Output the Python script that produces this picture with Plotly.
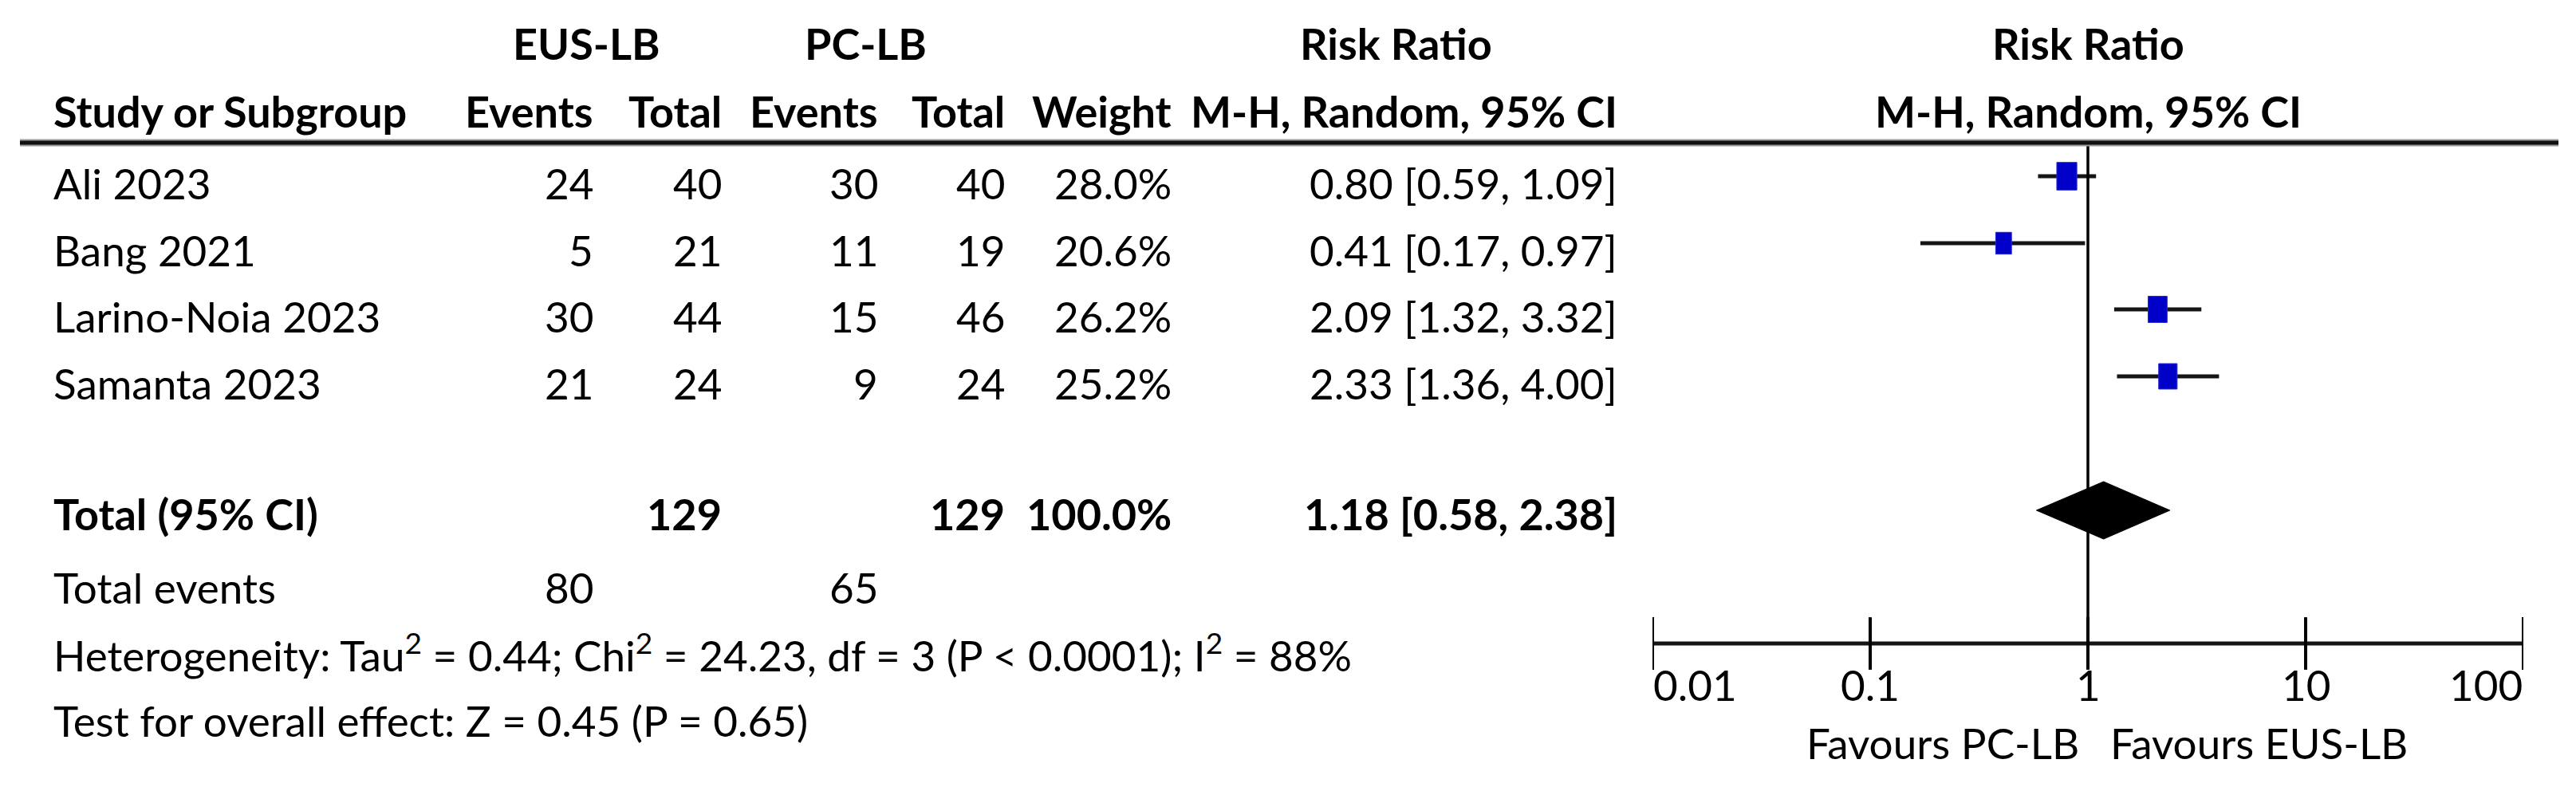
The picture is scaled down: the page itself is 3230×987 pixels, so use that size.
import math
import plotly.graph_objects as go

# ---------------- data ----------------
studies = ["Ali 2023", "Bang 2021", "Larino-Noia 2023", "Samanta 2023"]
eus_events = [24, 5, 30, 21]
eus_total = [40, 21, 44, 24]
pc_events = [30, 11, 15, 9]
pc_total = [40, 19, 46, 24]
weights = [28.0, 20.6, 26.2, 25.2]
rr = [0.80, 0.41, 2.09, 2.33]
ci_low = [0.59, 0.17, 1.32, 1.36]
ci_high = [1.09, 0.97, 3.32, 4.00]

total_label = "Total (95% CI)"
total_eus = 129
total_pc = 129
total_weight = 100.0
pooled_rr = 1.18
pooled_low = 0.58
pooled_high = 2.38

events_label = "Total events"
events_eus = 80
events_pc = 65

heterogeneity = ("Heterogeneity: Tau<sup>2</sup> = 0.44; Chi<sup>2</sup> = 24.23, "
                 "df = 3 (P &lt; 0.0001); I<sup>2</sup> = 88%")
overall_effect = "Test for overall effect: Z = 0.45 (P = 0.65)"

axis_ticks = [0.01, 0.1, 1, 10, 100]
axis_tick_labels = ["0.01", "0.1", "1", "10", "100"]
favours_left = "Favours PC-LB"
favours_right = "Favours EUS-LB"

group1 = "EUS-LB"
group2 = "PC-LB"

# ---------------- layout constants (pixels) ----------------
W, H = 3230, 987
FONT = "Lato, Roboto, sans-serif"
FS = 53
FSB = 54
AX_L, AX_R = 2072, 3164
DECADE_PX = (AX_R - AX_L) / (math.log10(axis_ticks[-1]) - math.log10(axis_ticks[0]))

ROW_Y = [221, 305, 388, 472]
TEXT_DY = 8
Y_H1, Y_H2, Y_RULE = 54, 139, 179
Y_TOTAL, Y_EVENTS, Y_HET, Y_TEST = 640, 736, 818, 903
Y_AXIS, Y_TICKLBL, Y_FAV = 807, 858, 931
DIAMOND_HALF = 36

X_STUDY = 66
X_EUS_EV, X_EUS_TOT = 745, 906
X_PC_EV, X_PC_TOT = 1102, 1261
X_WEIGHT = 1470
X_RR = 2029

annotations = []


def txt(s, xpx, y, anchor="left", bold=False, xref="paper"):
    annotations.append(dict(
        text=("<b>%s</b>" % s) if bold else s,
        x=(xpx / W) if xref == "paper" else xpx, xref=xref,
        y=y, yref="y", xanchor=anchor, yanchor="middle",
        showarrow=False, borderpad=0,
        font=dict(family=FONT, size=FSB if bold else FS, color="black"),
    ))


# headers
txt(group1, 735, Y_H1, "center", True)
txt(group2, 1085, Y_H1, "center", True)
txt("Risk Ratio", 1750, Y_H1, "center", True)
txt("Study or Subgroup", X_STUDY, Y_H2, "left", True)
txt("Events", X_EUS_EV, Y_H2, "right", True)
txt("Total", X_EUS_TOT, Y_H2, "right", True)
txt("Events", X_PC_EV, Y_H2, "right", True)
txt("Total", X_PC_TOT, Y_H2, "right", True)
txt("Weight", X_WEIGHT, Y_H2, "right", True)
txt("M-H, Random, 95% CI", X_RR, Y_H2, "right", True)
txt("Risk Ratio", 0, Y_H1, "center", True, xref="x")
txt("M-H, Random, 95% CI", 0, Y_H2, "center", True, xref="x")

# study rows
for i, s in enumerate(studies):
    y = ROW_Y[i] + TEXT_DY
    txt(s, X_STUDY, y)
    txt(str(eus_events[i]), X_EUS_EV, y, "right")
    txt(str(eus_total[i]), X_EUS_TOT, y, "right")
    txt(str(pc_events[i]), X_PC_EV, y, "right")
    txt(str(pc_total[i]), X_PC_TOT, y, "right")
    txt("%.1f%%" % weights[i], X_WEIGHT, y, "right")
    txt("%.2f [%.2f, %.2f]" % (rr[i], ci_low[i], ci_high[i]), X_RR, y, "right")

# total row
yt = Y_TOTAL + 4
txt(total_label, X_STUDY, yt, "left", True)
txt(str(total_eus), X_EUS_TOT, yt, "right", True)
txt(str(total_pc), X_PC_TOT, yt, "right", True)
txt("%.1f%%" % total_weight, X_WEIGHT, yt, "right", True)
txt("%.2f [%.2f, %.2f]" % (pooled_rr, pooled_low, pooled_high), X_RR, yt, "right", True)

txt(events_label, X_STUDY, Y_EVENTS)
txt(str(events_eus), X_EUS_EV, Y_EVENTS, "right")
txt(str(events_pc), X_PC_EV, Y_EVENTS, "right")
txt(heterogeneity, X_STUDY, Y_HET)
txt(overall_effect, X_STUDY, Y_TEST)

# axis tick labels
for i, (v, lab) in enumerate(zip(axis_ticks, axis_tick_labels)):
    anchor = "left" if i == 0 else ("right" if i == len(axis_ticks) - 1 else "center")
    txt(lab, math.log10(v), Y_TICKLBL, anchor, xref="x")
txt(favours_left, math.log10(1) - 0.035, Y_FAV, "right", xref="x")
txt(favours_right, math.log10(1) + 0.10, Y_FAV, "left", xref="x")

fig = go.Figure()

# CI lines
cx, cy = [], []
for i in range(len(studies)):
    cx += [ci_low[i], ci_high[i], None]
    cy += [ROW_Y[i], ROW_Y[i], None]
fig.add_trace(go.Scatter(x=cx, y=cy, mode="lines",
                         line=dict(color="#151515", width=5), hoverinfo="skip"))

# line of no effect
fig.add_trace(go.Scatter(x=[1, 1], y=[Y_RULE, Y_AXIS], mode="lines",
                         line=dict(color="black", width=3.5), hoverinfo="skip"))

# study boxes: upright rectangles sized by weight, centred on each estimate
bx, by = [], []
for i in range(len(studies)):
    bw = 5 + 0.72 * weights[i]          # box width in px
    bh = 1.38 * bw                      # box height in px
    f = 10 ** ((bw / 2) / DECADE_PX)    # half-width as a log-scale factor
    x0, x1 = rr[i] / f, rr[i] * f
    y0, y1 = ROW_Y[i] - bh / 2, ROW_Y[i] + bh / 2
    bx += [x0, x1, x1, x0, x0, None]
    by += [y0, y0, y1, y1, y0, None]
fig.add_trace(go.Scatter(x=bx, y=by, mode="lines", fill="toself",
                         fillcolor="#0000C8", line=dict(color="#2a2ad8", width=1),
                         hoverinfo="skip"))

# pooled diamond
fig.add_trace(go.Scatter(
    x=[pooled_low, pooled_rr, pooled_high, pooled_rr, pooled_low],
    y=[Y_TOTAL, Y_TOTAL - DIAMOND_HALF, Y_TOTAL, Y_TOTAL + DIAMOND_HALF, Y_TOTAL],
    mode="lines", fill="toself", fillcolor="black",
    line=dict(color="black", width=1), hoverinfo="skip"))

# bottom axis
fig.add_trace(go.Scatter(x=[axis_ticks[0], axis_ticks[-1]], y=[Y_AXIS, Y_AXIS],
                         mode="lines", line=dict(color="#151515", width=5),
                         hoverinfo="skip"))
fig.add_trace(go.Scatter(x=axis_ticks, y=[Y_AXIS] * len(axis_ticks), mode="markers",
                         marker=dict(symbol="line-ns", size=47,
                                     line=dict(color="black", width=4)),
                         hoverinfo="skip"))

shapes = [
    dict(type="line", xref="paper", yref="y", x0=25 / W, x1=3208 / W,
         y0=Y_RULE, y1=Y_RULE, line=dict(color="#9a9a9a", width=9)),
    dict(type="line", xref="paper", yref="y", x0=25 / W, x1=3208 / W,
         y0=Y_RULE, y1=Y_RULE, line=dict(color="#111111", width=5)),
]

fig.update_layout(
    width=W, height=H, autosize=False,
    margin=dict(l=0, r=0, t=0, b=0),
    paper_bgcolor="white", plot_bgcolor="white",
    showlegend=False,
    xaxis=dict(type="log", range=[math.log10(axis_ticks[0]), math.log10(axis_ticks[-1])],
               domain=[AX_L / W, AX_R / W], visible=False, fixedrange=True),
    yaxis=dict(range=[H, 0], domain=[0, 1], visible=False, fixedrange=True),
    annotations=annotations,
    shapes=shapes,
)

fig.write_html("out.html", config={"displayModeBar": False},
               post_script="document.body.style.margin='0';")
